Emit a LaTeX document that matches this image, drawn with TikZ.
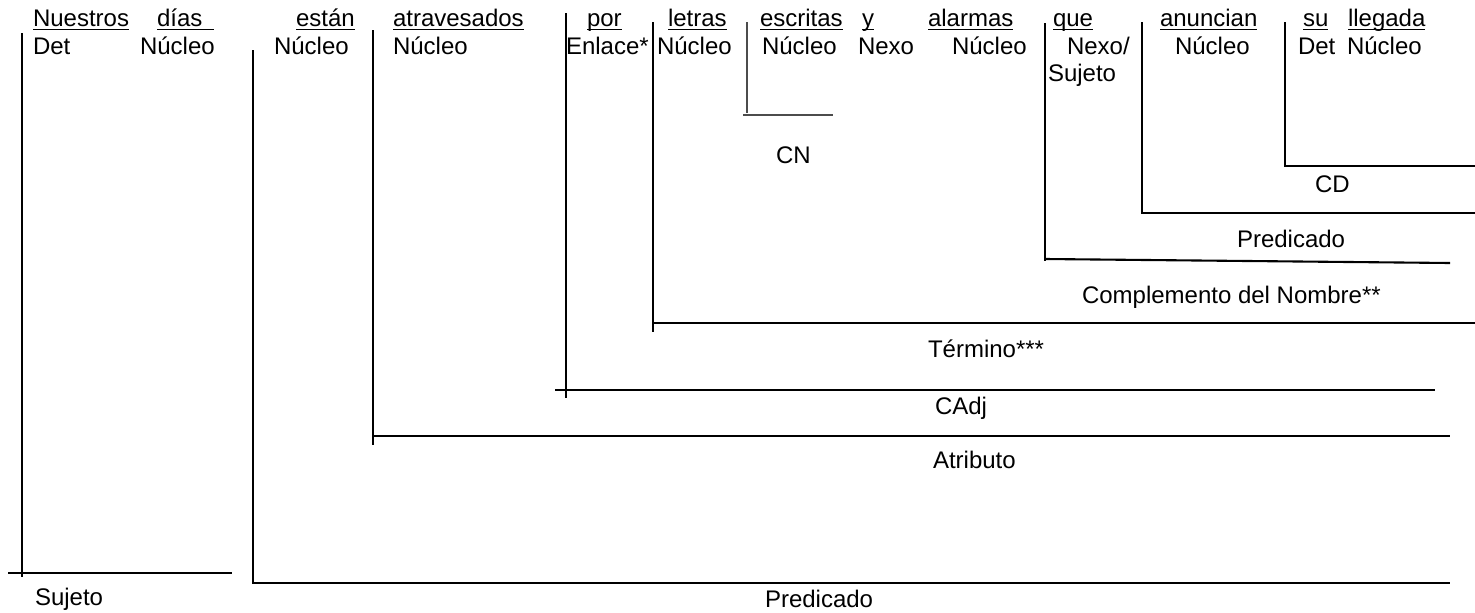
\documentclass[tikz,border=0pt]{standalone}
\usepackage{fontspec}
\setmainfont{Liberation Sans}
\begin{document}
\begin{tikzpicture}[x=1pt,y=-1pt,
  txt/.style={anchor=base west,inner sep=0pt,outer sep=0pt,font=\fontsize{24}{27.6}\selectfont},
  br/.style={line width=2.1pt,black},
  thinbr/.style={line width=1.3pt,black!70},
  ul/.style={line width=1.6pt,black}]
\useasboundingbox (0,0) rectangle (1475,613);
\fill[white] (0,0) rectangle (1475,613);
% words
\node[txt] (w1) at (33,27) {Nuestros};
\node[txt] (w2) at (157,27) {días\hspace*{12pt}};
\node[txt] (w3) at (296,27) {están};
\node[txt] (w4) at (393,27) {atravesados};
\node[txt] (w5) at (587,27) {por};
\node[txt] (w6) at (668,27) {letras};
\node[txt] (w7) at (760,27) {escritas};
\node[txt] (w8) at (862,27) {y};
\node[txt] (w9) at (928,27) {alarmas};
\node[txt] (w10) at (1053,27) {que};
\node[txt] (w11) at (1160,27) {anuncian};
\node[txt] (w12) at (1303,27) {su};
\node[txt] (w13) at (1348,27) {llegada};
\foreach \n in {w1,w2,w3,w4,w5,w6,w7,w8,w9,w10,w11,w12,w13}
  \draw[ul] ([yshift=-2.6pt]\n.base west) -- ([yshift=-2.6pt]\n.base east);
% functions
\node[txt] (f1) at (33,54) {Det};
\node[txt] (f2) at (140,54) {Núcleo};
\node[txt] (f3) at (274,54) {Núcleo};
\node[txt] (f4) at (393,54) {Núcleo};
\node[txt] (f5) at (566,54) {Enlace*};
\node[txt] (f6) at (657,54) {Núcleo};
\node[txt] (f7) at (762,54) {Núcleo};
\node[txt] (f8) at (858,54) {Nexo};
\node[txt] (f9) at (952,54) {Núcleo};
\node[txt] (f10) at (1067,54) {Nexo/};
\node[txt] (f10b) at (1048,81) {Sujeto};
\node[txt] (f11) at (1175,54) {Núcleo};
\node[txt] (f12) at (1298,54) {Det};
\node[txt] (f13) at (1347,54) {Núcleo};
% brackets
\draw[br] (22,33) -- (22,577);
\draw[br] (8,573) -- (232,573);
\node[txt] (lSuj) at (35,605) {Sujeto};

\draw[br] (253,50) -- (253,583) -- (1450,583);
\node[txt] (lPred) at (765,607) {Predicado};

\draw[br] (373,30) -- (373,445);
\draw[br] (373,436) -- (1450,436);
\node[txt] (lAtr) at (933,468) {Atributo};

\draw[br] (566,13) -- (566,398);
\draw[br] (555,390) -- (1435,390);
\node[txt] (lCAdj) at (935,414) {CAdj};

\draw[br] (653,22) -- (653,332);
\draw[br] (653,323) -- (1475,323);
\node[txt] (lTerm) at (928,357) {Término***};

\draw[thinbr] (747,22) -- (747,113);
\draw[thinbr] (743,115) -- (833,115);
\node[txt] (lCN) at (776,163) {CN};

\draw[br] (1045,23) -- (1045,261);
\draw[br] (1045,259) -- (1450,263);
\node[txt] (lCompN) at (1082,303) {Complemento del Nombre**};

\draw[br] (1142,22) -- (1142,213) -- (1475,213);
\node[txt] (lPredR) at (1237,247) {Predicado};

\draw[br] (1285,22) -- (1285,166) -- (1475,166);
\node[txt] (lCD) at (1315,192) {CD};
\end{tikzpicture}
\end{document}
